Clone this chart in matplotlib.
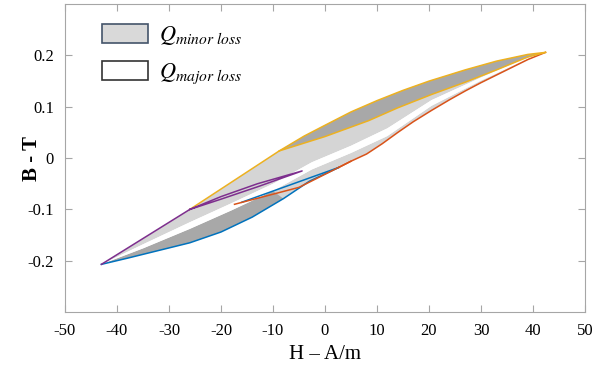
import matplotlib.pyplot as plt
import numpy as np
from matplotlib.patches import Patch

plt.rcParams['font.family'] = ['Liberation Serif', 'DejaVu Serif']
plt.rcParams['mathtext.fontset'] = 'stix'

# major loop, upper branch (purple part then yellow part)
purple_h = [-43, -26]
purple_b = [-0.207, -0.100]
yellow_h = [-26, -8.8, -4, 0, 5, 10, 15, 20, 27, 33, 39, 42.4]
yellow_b = [-0.100, 0.014, 0.043, 0.064, 0.090, 0.112, 0.132, 0.150, 0.172, 0.189, 0.202, 0.206]
# minor loop line inside the upper branch
inner_h = [-8.8, 0, 8.4, 14, 20.5, 27, 33, 39, 42.4]
inner_b = [0.014, 0.042, 0.073, 0.098, 0.124, 0.148, 0.172, 0.197, 0.206]

# major loop, lower branch (blue then orange)
blue_h = [-43, -38, -32, -26, -20, -14, -8, -3, 2.7]
blue_b = [-0.207, -0.195, -0.180, -0.165, -0.144, -0.115, -0.079, -0.045, -0.018]
orange_h = [2.7, 5, 8, 11, 14, 17, 20.5, 24, 27, 30, 33, 36, 39, 42.4]
orange_b = [-0.018, -0.006, 0.008, 0.028, 0.050, 0.071, 0.093, 0.114, 0.131, 0.147, 0.162, 0.177, 0.192, 0.206]

# white gap between the two shaded bands
gap_h = [-43, -35, -26, -18, -10, -2.5, 5, 12, 20.5, 30, 38]
gap_top = [-0.207, -0.168, -0.125, -0.088, -0.050, -0.008, 0.024, 0.058, 0.113, 0.157, 0.192]
gap_bot = [-0.207, -0.176, -0.138, -0.102, -0.064, -0.022, 0.010, 0.043, 0.102, 0.151, 0.189]

# small minor loops
pm_h = [-26, -20, -13, -4.4, -13, -20, -26]
pm_b = [-0.100, -0.075, -0.050, -0.025, -0.056, -0.080, -0.100]
bm_h = [2.7, -5, -16]
bm_b = [-0.018, -0.046, -0.086]
om_h = [-17.4, -5, 5]
om_b = [-0.090, -0.057, -0.006]

xticks = [-50, -40, -30, -20, -10, 0, 10, 20, 30, 40, 50]
xtick_labels = ['-50', '-40', '-30', '-20', '-10', '0', '10', '20', '30', '40', '50']
yticks = [-0.2, -0.1, 0, 0.1, 0.2]
ytick_labels = ['-0.2', '-0.1', '0', '0.1', '0.2']

fig = plt.figure(figsize=(5.93, 3.76), dpi=100)
ax = fig.add_axes([0.1096, 0.170, 0.8769, 0.819])

c_blue = '#0072BD'
c_orange = '#D95319'
c_yellow = '#EDB120'
c_purple = '#7E2F8E'
light = '#d5d5d5'
dark = '#a8a8a8'

up_h = purple_h + yellow_h[1:]
up_b = purple_b + yellow_b[1:]
low_h = blue_h + orange_h[1:]
low_b = blue_b + orange_b[1:]

# upper light band: upper branch down to gap top
ax.fill(np.r_[up_h, gap_h[::-1]], np.r_[up_b, gap_top[::-1]], color=light, lw=0)
# lower band: gap bottom down to lower branch
ax.fill(np.r_[low_h, gap_h[::-1]], np.r_[low_b, gap_bot[::-1]], color=light, lw=0)
# darker lower-left part along the blue branch
ax.fill(np.r_[blue_h[:-2], gap_h[4::-1]], np.r_[blue_b[:-2], gap_bot[4::-1]], color=dark, lw=0)
# darker upper-right part between outer and inner lines
ax.fill(np.r_[yellow_h[1:], inner_h[::-1]], np.r_[yellow_b[1:], inner_b[::-1]], color=dark, lw=0)
# white gap
ax.fill(np.r_[gap_h, gap_h[::-1]], np.r_[gap_top, gap_bot[::-1]], color='white', lw=0)

lw = 1.1
ax.plot(blue_h, blue_b, color=c_blue, lw=lw)
ax.plot(bm_h, bm_b, color=c_blue, lw=lw)
ax.plot(orange_h, orange_b, color=c_orange, lw=lw)
ax.plot(om_h, om_b, color=c_orange, lw=lw)
ax.plot(yellow_h, yellow_b, color=c_yellow, lw=lw)
ax.plot(inner_h, inner_b, color=c_yellow, lw=lw)
ax.plot(purple_h, purple_b, color=c_purple, lw=lw)
ax.plot(pm_h, pm_b, color=c_purple, lw=lw)

ax.set_xlim(-50, 50)
ax.set_ylim(-0.3, 0.3)
ax.set_xticks(xticks)
ax.set_xticklabels(xtick_labels)
ax.set_yticks(yticks)
ax.set_yticklabels(ytick_labels)
ax.tick_params(direction='in', length=5, color='#a6a6a6', labelsize=12,
               top=True, right=True, pad=8)
for s in ax.spines.values():
    s.set_color('#a6a6a6')

ax.set_xlabel('H \u2013 A/m', fontsize=15, labelpad=4)
ax.set_ylabel('B - T', fontsize=15, fontweight='bold')
ax.yaxis.set_label_coords(-0.045, 0.5)

handles = [Patch(facecolor='#d9d9d9', edgecolor='#44546a', lw=1.2),
           Patch(facecolor='white', edgecolor='#333333', lw=1.2)]
ax.legend(handles, [r'$Q_{minor\ loss}$', r'$Q_{major\ loss}$'], loc='upper left',
          bbox_to_anchor=(0.032, 1.0), frameon=False, fontsize=16,
          handlelength=2.1, handleheight=0.95, labelspacing=0.6, handletextpad=0.5)

fig.savefig('out.png', dpi=100)
